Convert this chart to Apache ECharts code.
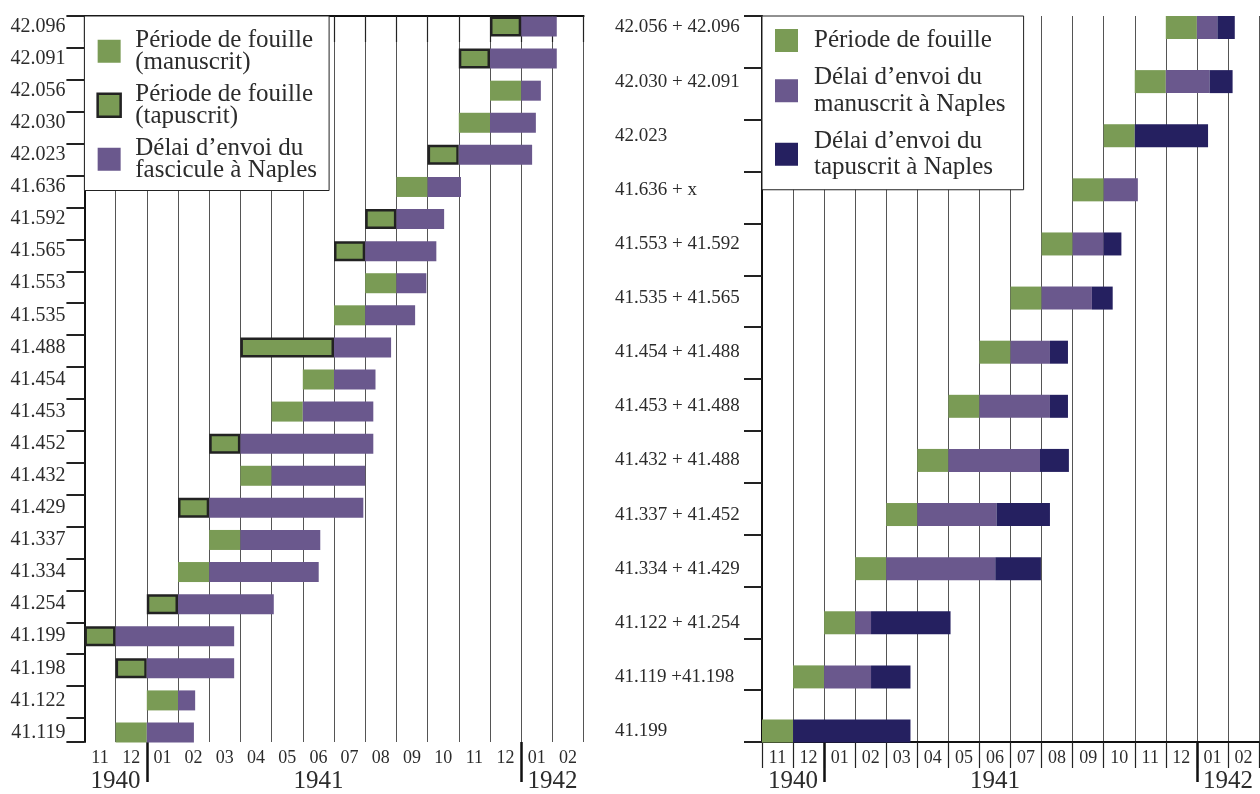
<!DOCTYPE html>
<html><head><meta charset="utf-8">
<script src="https://cdn.jsdelivr.net/npm/echarts@6/dist/echarts.min.js"></script>
<style>html,body{margin:0;padding:0;background:#fff}#c{width:1260px;height:794px}</style>
</head><body><div id="c"></div>
<script>
// ---- axis tick labels ----
const monthLabels = ['11','12','01','02','03','04','05','06','07','08','09','10','11','12','01','02'];
const yearLabels = ['1940','1941','1942'];
const yearCenters = [1, 7.5, 15];   // months from Nov 1940
const yearBreaks = [2, 14];

// ---- left chart (months counted from 1 Nov 1940) ----
const leftCategories = ['42.096','42.091','42.056','42.030','42.023','41.636','41.592','41.565','41.553','41.535','41.488','41.454','41.453','41.452','41.432','41.429','41.337','41.334','41.254','41.199','41.198','41.122','41.119'];
const leftSupport = ['T','T','M','M','T','M','T','T','M','M','T','M','M','T','M','T','M','M','T','T','T','M','M'];
const leftFouilleStart = [13,12,13,12,11,10,9,8,9,8,5,7,6,4,5,3,4,3,2,0,1,2,1];
const leftFouilleEnd   = [14,13,14,13,12,11,10,9,10,9,8,8,7,5,6,4,5,4,3,1,2,3,2];
const leftNaplesEnd    = [15.14,15.14,14.63,14.47,14.35,12.07,11.53,11.28,10.96,10.6,9.83,9.33,9.26,9.26,9.0,8.94,7.56,7.51,6.07,4.8,4.8,3.55,3.51];

// ---- right chart ----
const rightCategories = ['42.056 + 42.096','42.030 + 42.091','42.023','41.636 + x','41.553 + 41.592','41.535 + 41.565','41.454 + 41.488','41.453 + 41.488','41.432 + 41.488','41.337 + 41.452','41.334 + 41.429','41.122 + 41.254','41.119 +41.198','41.199'];
const rightFouilleStart = [13,12,11,10,9,8,7,6,5,4,3,2,1,0];
const rightFouilleEnd   = [14,13,12,11,10,9,8,7,6,5,4,3,2,1];
const rightManuscritEnd = [14.66,14.41,null,12.1,11.0,10.62,9.27,9.27,8.95,7.55,7.51,3.51,3.51,null];
const rightTapuscritEnd = [15.22,15.15,14.36,null,11.57,11.29,9.85,9.85,9.88,9.27,8.98,6.07,4.78,4.78];

const FONT = 'Liberation Serif';
const TXT = '#2b2b2b';
const GREEN = '#7a9b55', PURPLE = '#6a588d', NAVY = '#252060', EDGE = '#222';

const LM = 'Période de fouille\n(manuscrit)';
const LT = 'Période de fouille\n(tapuscrit)';
const LP = 'Délai d’envoi du\nfascicule à Naples';
const RG = 'Période de fouille';
const RP = 'Délai d’envoi du\nmanuscrit à Naples';
const RN = 'Délai d’envoi du\ntapuscrit à Naples';

const r2 = v => Math.round(v * 100) / 100;

function monthAxis(gridIndex) {
  return {
    type: 'category', gridIndex, position: 'bottom', data: monthLabels, boundaryGap: true,
    axisLine: { show: true, lineStyle: { color: '#111', width: 2 } },
    axisTick: { show: true, interval: 0, length: 26, lineStyle: { color: '#222', width: 1.2 } },
    axisLabel: { interval: 0, margin: 7, fontFamily: FONT, fontSize: 18, color: TXT },
    splitLine: { show: true, interval: 0, lineStyle: { color: '#555', width: 1 } }
  };
}
function yearAxis(gridIndex) {
  return {
    type: 'value', gridIndex, position: 'bottom', min: 0, max: 16,
    axisLine: { show: false },
    axisTick: { show: true, customValues: yearBreaks, length: 40, lineStyle: { color: '#111', width: 2.5 } },
    axisLabel: {
      customValues: yearCenters, margin: 27, fontFamily: FONT, fontSize: 25, color: TXT,
      formatter: v => { const i = yearCenters.indexOf(v); return i >= 0 ? yearLabels[i] : ''; }
    },
    splitLine: { show: false }
  };
}
function hiddenValueAxis(gridIndex) {
  return { type: 'value', gridIndex, min: 0, max: 16, show: false, splitLine: { show: false } };
}

const option = {
  animation: false,
  backgroundColor: '#fff',
  grid: [
    { left: 84.4, width: 499.2, top: 16, height: 726 },
    { left: 84.4, width: 499.2, top: 26.5, height: 706 },
    { left: 762, width: 497, top: 16, height: 726 },
    { left: 762, width: 497, top: 27.5, height: 703.5 }
  ],
  xAxis: [
    monthAxis(0), yearAxis(0), hiddenValueAxis(1),
    monthAxis(2), yearAxis(2), hiddenValueAxis(3)
  ],
  yAxis: [
    { type: 'value', gridIndex: 0, inverse: true, min: 0, max: 22.75, interval: 1,
      axisLine: { show: true, lineStyle: { color: '#111', width: 2 } },
      axisTick: { show: true, length: 18, lineStyle: { color: '#222', width: 2 } },
      axisLabel: { show: false }, splitLine: { show: false } },
    { type: 'category', gridIndex: 1, inverse: true, boundaryGap: false, data: leftCategories,
      axisLine: { show: false }, axisTick: { show: false },
      axisLabel: { interval: 0, margin: 19, fontFamily: FONT, fontSize: 20, color: TXT } },
    { type: 'category', gridIndex: 2, inverse: true, boundaryGap: true, data: rightCategories,
      axisLine: { show: true, lineStyle: { color: '#111', width: 2 } },
      axisTick: { show: true, interval: 0, length: 18, lineStyle: { color: '#222', width: 2 } },
      axisLabel: { show: false }, splitLine: { show: false } },
    { type: 'category', gridIndex: 3, inverse: true, boundaryGap: false, data: rightCategories,
      axisLine: { show: false }, axisTick: { show: false },
      axisLabel: { interval: 0, margin: 147, align: 'left', fontFamily: FONT, fontSize: 19, color: TXT } }
  ],
  legend: [
    { orient: 'vertical', left: 84.4, top: 16, itemWidth: 23, itemHeight: 23, itemGap: 7.5,
      padding: [12, 12, 8, 12], backgroundColor: '#fff', borderColor: '#222', borderWidth: 1,
      selectedMode: false,
      textStyle: { fontFamily: FONT, fontSize: 25, lineHeight: 21.5, color: TXT, padding: [0, 0, 0, 9.6] },
      data: [
        { name: LM, icon: 'rect' },
        { name: LT, icon: 'rect', itemStyle: { color: GREEN, borderColor: EDGE, borderWidth: 2.5 } },
        { name: LP, icon: 'rect' }
      ] },
    { orient: 'vertical', left: 762, top: 16, itemWidth: 23, itemHeight: 23, itemGap: 10.5,
      padding: [11.25, 18, 9, 13], backgroundColor: '#fff', borderColor: '#222', borderWidth: 1,
      selectedMode: false,
      textStyle: { fontFamily: FONT, fontSize: 25, lineHeight: 26.5, color: TXT, padding: [0, 0, 0, 11] },
      data: [ { name: RG, icon: 'rect' }, { name: RP, icon: 'rect' }, { name: RN, icon: 'rect' } ] }
  ],
  series: [
    // left
    { type: 'bar', name: '_baseL', xAxisIndex: 2, yAxisIndex: 1, stack: 'L', barWidth: 20, silent: true,
      itemStyle: { color: 'rgba(0,0,0,0)' }, data: leftFouilleStart },
    { type: 'bar', name: LM, xAxisIndex: 2, yAxisIndex: 1, stack: 'L', barWidth: 20,
      itemStyle: { color: GREEN },
      data: leftSupport.map((s, i) => s === 'M' ? r2(leftFouilleEnd[i] - leftFouilleStart[i]) : '-') },
    { type: 'bar', name: LT, xAxisIndex: 2, yAxisIndex: 1, stack: 'L', barWidth: 20,
      itemStyle: { color: GREEN, borderColor: EDGE, borderWidth: 2.5 },
      data: leftSupport.map((s, i) => s === 'T' ? r2(leftFouilleEnd[i] - leftFouilleStart[i]) : '-') },
    { type: 'bar', name: LP, xAxisIndex: 2, yAxisIndex: 1, stack: 'L', barWidth: 20,
      itemStyle: { color: PURPLE },
      data: leftNaplesEnd.map((v, i) => r2(v - leftFouilleEnd[i])) },
    // right
    { type: 'bar', name: '_baseR', xAxisIndex: 5, yAxisIndex: 3, stack: 'R', barWidth: 23, silent: true,
      itemStyle: { color: 'rgba(0,0,0,0)' }, data: rightFouilleStart },
    { type: 'bar', name: RG, xAxisIndex: 5, yAxisIndex: 3, stack: 'R', barWidth: 23,
      itemStyle: { color: GREEN },
      data: rightFouilleEnd.map((v, i) => r2(v - rightFouilleStart[i])) },
    { type: 'bar', name: RP, xAxisIndex: 5, yAxisIndex: 3, stack: 'R', barWidth: 23,
      itemStyle: { color: PURPLE },
      data: rightManuscritEnd.map((v, i) => v == null ? '-' : r2(v - rightFouilleEnd[i])) },
    { type: 'bar', name: RN, xAxisIndex: 5, yAxisIndex: 3, stack: 'R', barWidth: 23,
      itemStyle: { color: NAVY },
      data: rightTapuscritEnd.map((v, i) => v == null ? '-' :
        r2(v - (rightManuscritEnd[i] == null ? rightFouilleEnd[i] : rightManuscritEnd[i]))) }
  ]
};

const chart = echarts.init(document.getElementById('c'), null, { renderer: 'canvas' });
chart.setOption(option);
</script>
</body></html>
